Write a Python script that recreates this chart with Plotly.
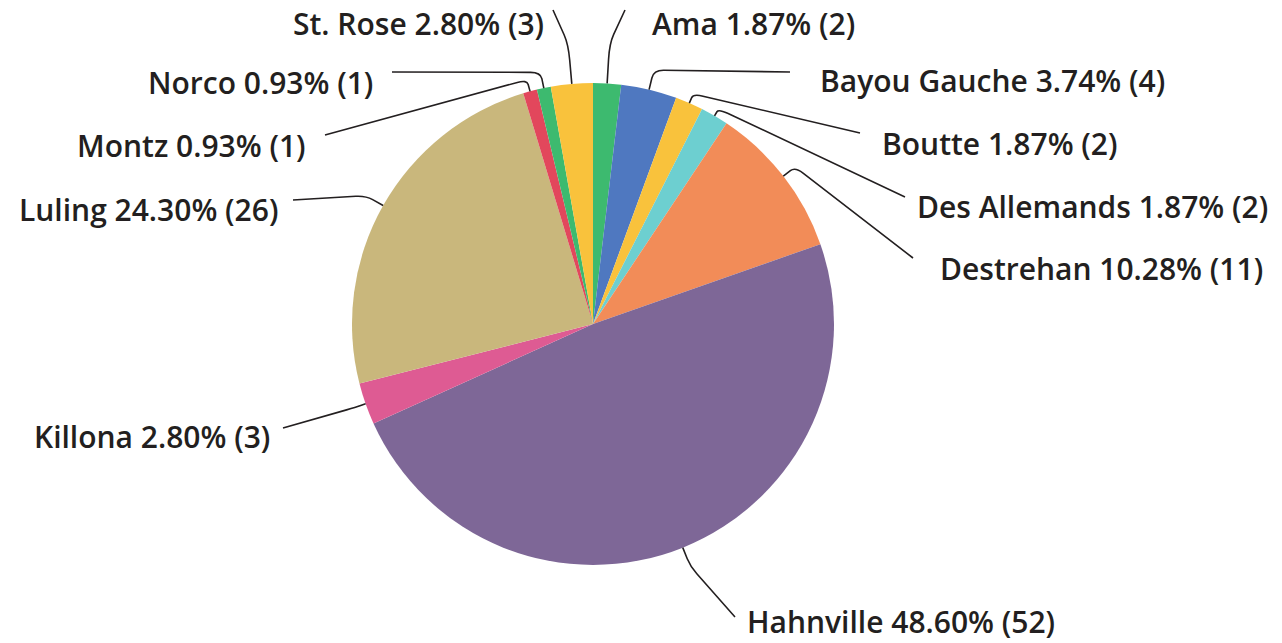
import math
import plotly.graph_objects as go

towns = ["Ama", "Bayou Gauche", "Boutte", "Des Allemands", "Destrehan", "Hahnville",
         "Killona", "Luling", "Montz", "Norco", "St. Rose"]
counts = [2, 4, 2, 2, 11, 52, 3, 26, 1, 1, 3]
percents = ["1.87%", "3.74%", "1.87%", "1.87%", "10.28%", "48.60%",
            "2.80%", "24.30%", "0.93%", "0.93%", "2.80%"]
colors = ["#3dba6f", "#4f78c0", "#f9c23c", "#6dcfd0", "#f28c58", "#7e6797",
          "#de5b93", "#c9b77c", "#e2475c", "#3dba6f", "#f9c23c"]

# layout in page pixels (body margin removed below)
W, H = 1282, 643
cx, cy, r = 593, 324, 241
anchors = [(625, 10), (790, 72), (860, 133), (905, 197), (913, 258), (735, 617),
           (283, 428), (293, 200), (325, 135), (392, 72), (553, 10)]
ext = [40, 20, 10, 8, 15, 20, 10, 20, 12, 16, 40]
text_pos = [(650, 23, "left"), (818, 80, "left"), (880, 143, "left"), (915, 206, "left"),
            (938, 268, "left"), (745, 621, "left"), (272, 436, "right"), (280, 209, "right"),
            (308, 145, "right"), (375, 82, "right"), (546, 23, "right")]

fig = go.Figure()
fig.add_trace(go.Pie(
    labels=towns, values=counts, sort=False, direction="clockwise", rotation=0,
    marker=dict(colors=colors, line=dict(width=0)),
    textinfo="none", hoverinfo="label+percent+value", showlegend=False,
    domain=dict(x=[(cx - r) / W, (cx + r) / W], y=[(H - cy - r) / H, (H - cy + r) / H]),
))

total = sum(counts)
cum = 0
shapes = []
annotations = []
for i, name in enumerate(towns):
    mid = (cum + counts[i] / 2) / total * 2 * math.pi
    cum += counts[i]
    ex, ey = cx + r * math.sin(mid), cy - r * math.cos(mid)
    px, py = cx + (r + ext[i]) * math.sin(mid), cy - (r + ext[i]) * math.cos(mid)
    ax, ay = anchors[i]
    # short radial stub then a rounded bend toward the label
    bx, by = cx + (r + ext[i] * 0.6) * math.sin(mid), cy - (r + ext[i] * 0.6) * math.cos(mid)
    d = math.hypot(ax - px, ay - py)
    t = min(10, d / 2) / d
    qx, qy = px + (ax - px) * t, py + (ay - py) * t
    path = f"M {ex},{ey} L {bx},{by} Q {px},{py} {qx},{qy} L {ax},{ay}"
    shapes.append(dict(type="path", path=path, xref="x", yref="y",
                       line=dict(color="#231f20", width=1.6), layer="above"))
    tx, ty, side = text_pos[i]
    annotations.append(dict(x=tx, y=ty, xref="x", yref="y", text=f"{name} {percents[i]} ({counts[i]})",
                            showarrow=False, xanchor=side, yanchor="middle",
                            font=dict(family="Open Sans", size=30, color="#231f20", weight=600)))

fig.update_layout(
    width=W, height=H, margin=dict(l=0, r=0, t=0, b=0),
    paper_bgcolor="white", plot_bgcolor="white",
    xaxis=dict(range=[0, W], visible=False, fixedrange=True),
    yaxis=dict(range=[H, 0], visible=False, fixedrange=True),
    shapes=shapes, annotations=annotations,
)

fig.write_html("out.html", config={"displayModeBar": False},
               post_script="document.body.style.margin='0';document.body.style.overflow='hidden';")
